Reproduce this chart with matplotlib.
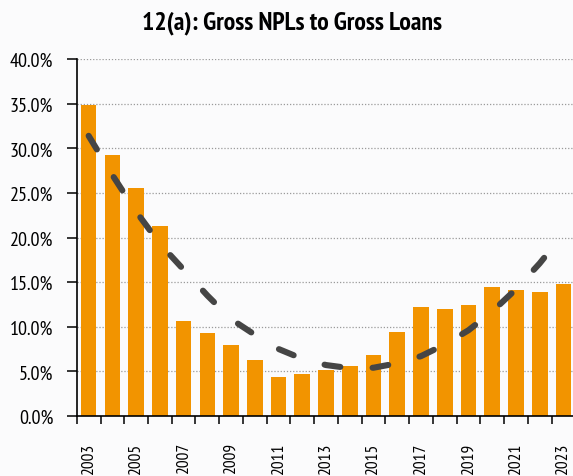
import matplotlib
matplotlib.use("Agg")
import matplotlib.pyplot as plt
import numpy as np
from matplotlib.ticker import FuncFormatter, FixedLocator, MultipleLocator

years = list(range(2003, 2024))
npl_ratio = [34.9, 29.2, 25.6, 21.3, 10.65, 9.25, 7.95, 6.3, 4.4, 4.65,
             5.15, 5.55, 6.8, 9.35, 12.2, 11.95, 12.4, 14.45, 14.1, 13.85, 14.75]
trend = [31.4, 27.0, 22.9, 19.3, 16.4, 13.5, 10.85, 9.1, 7.5, 6.4,
         5.7, 5.35, 5.4, 5.9, 6.7, 8.0, 9.6, 11.7, 14.2, 17.1, 20.4]
title = "12(a): Gross NPLs to Gross Loans"

fonts = ["PT Sans Narrow", "Fira Sans Condensed", "DejaVu Sans"]
plt.rcParams["font.family"] = fonts
bg = "#fbfbfc"

fig = plt.figure(figsize=(5.73, 4.77), dpi=100, facecolor=bg)
ax = fig.add_axes([0.134, 0.126, 0.870, 0.748], facecolor=bg)

x = np.arange(len(years))
ax.bar(x, npl_ratio, width=0.66, color="#f29400", zorder=2)
ax.plot(x, trend, color="#454545", lw=4.4, solid_capstyle="round",
        dash_capstyle="round", ls=(0, (2.6, 5.3)), zorder=3)

ax.set_xlim(-0.5, len(years) - 0.5)
ax.set_ylim(0, 40)
ax.yaxis.set_major_locator(MultipleLocator(5))
ax.yaxis.set_major_formatter(FuncFormatter(lambda v, p: f"{v:.1f}%"))
ax.grid(axis="y", color="#9a9a9a", ls=(0, (1, 1.5)), lw=0.9, zorder=0)

ax.xaxis.set_major_locator(FixedLocator(x[::2]))
ax.set_xticklabels([str(y) for y in years[::2]], rotation=90, fontsize=12.5)
ax.xaxis.set_minor_locator(FixedLocator(np.arange(-0.5, len(years), 1.0)))
ax.tick_params(axis="x", which="major", length=0, pad=19)
ax.tick_params(axis="x", which="minor", length=6, width=1.1, color="black")
ax.tick_params(axis="y", length=7, width=1.1, pad=10, labelsize=14.5)

for s in ["top", "right"]:
    ax.spines[s].set_visible(False)
for s in ["left", "bottom"]:
    ax.spines[s].set_linewidth(1.2)
    ax.spines[s].set_color("black")

fig.text(0.510, 0.952, title, ha="center", va="center", fontsize=18.5,
         fontweight="bold")

fig.savefig("out.png", dpi=100, facecolor=bg)
